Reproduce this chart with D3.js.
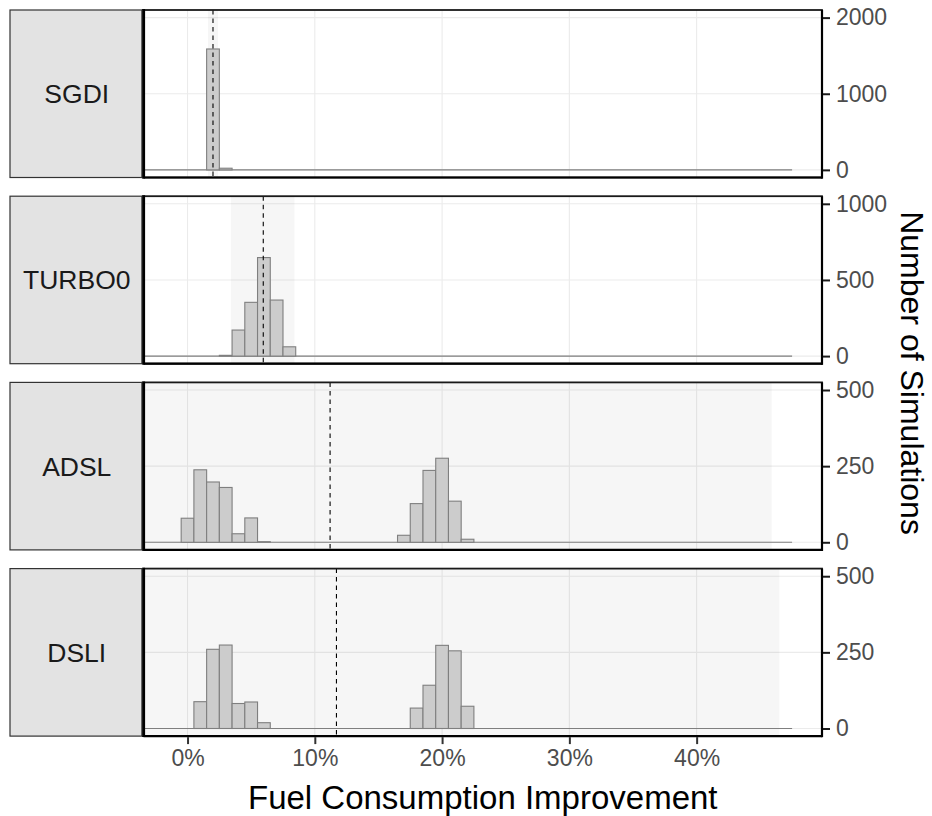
<!DOCTYPE html>
<html>
<head>
<meta charset="utf-8">
<title>Fuel Consumption Improvement histograms</title>
<style>
  body { margin: 0; background: #fff; }
  svg { display: block; font-family: "Liberation Sans", Arial, sans-serif; }
</style>
</head>
<body>
<div id="chart"></div>
<script src="https://cdn.jsdelivr.net/npm/d3@7"></script>
<script>
// facet labels
var panels = ["SGDI", "TURBO0", "ADSL", "DSLI"];

// histogram bins (centre, % improvement, binwidth 1) and counts per facet
var sgdiBins   = [2, 3];
var sgdiCounts = [1588, 22];
var turboBins   = [3, 4, 5, 6, 7, 8];
var turboCounts = [5, 171, 353, 647, 368, 61];
var adslBins   = [0, 1, 2, 3, 4, 5, 6, 17, 18, 19, 20, 21, 22];
var adslCounts = [79, 238, 198, 180, 28, 80, 2, 23, 127, 236, 276, 135, 10];
var dsliBins   = [1, 2, 3, 4, 5, 6, 18, 19, 20, 21, 22];
var dsliCounts = [88, 260, 274, 82, 87, 19, 67, 142, 273, 255, 73];

var binWidth = 1;
var binRange = [-3.5, 47.5];           // full span of (mostly empty) bins

// dashed reference line and shaded interval per facet
var meanLines = [2.0, 5.95, 11.2, 11.7];
var shadeLo   = [1.6, 3.4, -3.5, -3.5];
var shadeHi   = [2.4, 8.4, 45.9, 46.5];

// y axis per facet
var yMax   = [2000, 1000, 500, 500];
var yTicks = [[0, 1000, 2000], [0, 500, 1000], [0, 250, 500], [0, 250, 500]];
var xTicks = [0, 10, 20, 30, 40];

var binSets = [
  {bins: sgdiBins, counts: sgdiCounts},
  {bins: turboBins, counts: turboCounts},
  {bins: adslBins, counts: adslCounts},
  {bins: dsliBins, counts: dsliCounts}
];

var width = 932, height = 816;
var stripX = 10, panelL = 143.5, panelR = 822;
var panelTop = 10, panelH = 167.5, gap = 18.7;

var svg = d3.select("#chart").append("svg")
    .attr("width", width)
    .attr("height", height);

var x = d3.scaleLinear().domain([-3.46, 49.85]).range([panelL, panelR]);

panels.forEach(function(name, i) {
  var top = panelTop + i * (panelH + gap);
  var bottom = top + panelH;
  var pad = yMax[i] * 0.05;
  var y = d3.scaleLinear().domain([-pad, yMax[i] + pad]).range([bottom, top]);

  var g = svg.append("g").attr("class", "panel");

  g.append("clipPath").attr("id", "clip" + i)
    .append("rect")
      .attr("x", panelL).attr("y", top)
      .attr("width", panelR - panelL).attr("height", panelH);

  var inner = g.append("g").attr("clip-path", "url(#clip" + i + ")");

  // gridlines
  inner.selectAll(".gx").data(xTicks).enter().append("line")
    .attr("x1", function(d) { return x(d); }).attr("x2", function(d) { return x(d); })
    .attr("y1", top).attr("y2", bottom)
    .attr("stroke", "#ebebeb").attr("stroke-width", 1.1);
  inner.selectAll(".gy").data(yTicks[i]).enter().append("line")
    .attr("x1", panelL).attr("x2", panelR)
    .attr("y1", function(d) { return y(d); }).attr("y2", function(d) { return y(d); })
    .attr("stroke", "#ebebeb").attr("stroke-width", 1.1);

  // shaded interval
  inner.append("rect")
    .attr("x", x(shadeLo[i]))
    .attr("width", x(shadeHi[i]) - x(shadeLo[i]))
    .attr("y", top).attr("height", panelH)
    .attr("fill", "#000").attr("fill-opacity", 0.035);

  // empty bins along the baseline
  inner.append("line")
    .attr("x1", x(binRange[0])).attr("x2", x(binRange[1]))
    .attr("y1", y(0)).attr("y2", y(0))
    .attr("stroke", "#7f7f7f").attr("stroke-width", 1.1);

  // histogram bars
  var set = binSets[i];
  var rows = set.bins.map(function(b, k) { return {bin: b, count: set.counts[k]}; });
  inner.selectAll(".bar").data(rows).enter().append("rect")
    .attr("x", function(d) { return x(d.bin - binWidth / 2); })
    .attr("width", function(d) { return x(d.bin + binWidth / 2) - x(d.bin - binWidth / 2); })
    .attr("y", function(d) { return y(d.count); })
    .attr("height", function(d) { return y(0) - y(d.count); })
    .attr("fill", "#cccccc")
    .attr("stroke", "#7f7f7f")
    .attr("stroke-width", 1.1);

  // dashed line
  inner.append("line")
    .attr("x1", x(meanLines[i])).attr("x2", x(meanLines[i]))
    .attr("y1", top).attr("y2", bottom)
    .attr("stroke", "#000").attr("stroke-width", 1.1)
    .attr("stroke-dasharray", "4.5,4");

  // panel border
  g.append("rect")
    .attr("x", panelL).attr("y", top)
    .attr("width", panelR - panelL).attr("height", panelH)
    .attr("fill", "none").attr("stroke", "#1a1a1a").attr("stroke-width", 1.8);
  g.append("line")
    .attr("x1", panelL).attr("x2", panelL).attr("y1", top - 0.9).attr("y2", bottom + 0.9)
    .attr("stroke", "#000").attr("stroke-width", 3.2);
  g.append("line")
    .attr("x1", panelR).attr("x2", panelR).attr("y1", top).attr("y2", bottom + 1.1)
    .attr("stroke", "#000").attr("stroke-width", 2.2);
  g.append("line")
    .attr("x1", panelL).attr("x2", panelR).attr("y1", bottom).attr("y2", bottom)
    .attr("stroke", "#000").attr("stroke-width", 2.2);

  // strip on the left
  g.append("rect")
    .attr("x", stripX).attr("y", top)
    .attr("width", panelL - stripX - 1.6).attr("height", panelH)
    .attr("fill", "#e3e3e3").attr("stroke", "#333").attr("stroke-width", 1.2);
  g.append("text")
    .attr("x", (stripX + panelL) / 2).attr("y", top + panelH / 2)
    .attr("dy", "0.36em")
    .attr("text-anchor", "middle")
    .attr("font-size", 26.5)
    .attr("fill", "#1a1a1a")
    .text(name);

  // right y axis
  var yAxis = d3.axisRight(y).tickValues(yTicks[i]).tickSize(7).tickPadding(6)
    .tickFormat(d3.format("d"));
  var ya = g.append("g").attr("transform", "translate(" + (panelR + 1) + ",0)").call(yAxis);
  ya.select(".domain").remove();
  ya.selectAll("line").attr("stroke", "#1a1a1a").attr("stroke-width", 2);
  ya.selectAll("text").attr("font-size", 23).attr("fill", "#4d4d4d")
    .attr("font-family", "Liberation Sans, Arial, sans-serif");

  // bottom x axis on the last panel
  if (i === panels.length - 1) {
    var xAxis = d3.axisBottom(x).tickValues(xTicks).tickSize(7).tickPadding(6)
      .tickFormat(function(d) { return d + "%"; });
    var xa = g.append("g").attr("transform", "translate(0," + (bottom + 1) + ")").call(xAxis);
    xa.select(".domain").remove();
    xa.selectAll("line").attr("stroke", "#333").attr("stroke-width", 2);
    xa.selectAll("text").attr("font-size", 23).attr("fill", "#4d4d4d")
      .attr("font-family", "Liberation Sans, Arial, sans-serif");
  }
});

var panelsBottom = panelTop + panels.length * panelH + (panels.length - 1) * gap;

// axis titles
svg.append("text")
  .attr("x", (panelL + panelR) / 2).attr("y", 809)
  .attr("text-anchor", "middle")
  .attr("font-size", 33)
  .attr("fill", "#000")
  .text("Fuel Consumption Improvement");

svg.append("text")
  .attr("transform", "translate(901," + (panelTop + panelsBottom) / 2 + ") rotate(90)")
  .attr("text-anchor", "middle")
  .attr("font-size", 32)
  .attr("fill", "#000")
  .text("Number of Simulations");
</script>
</body>
</html>
